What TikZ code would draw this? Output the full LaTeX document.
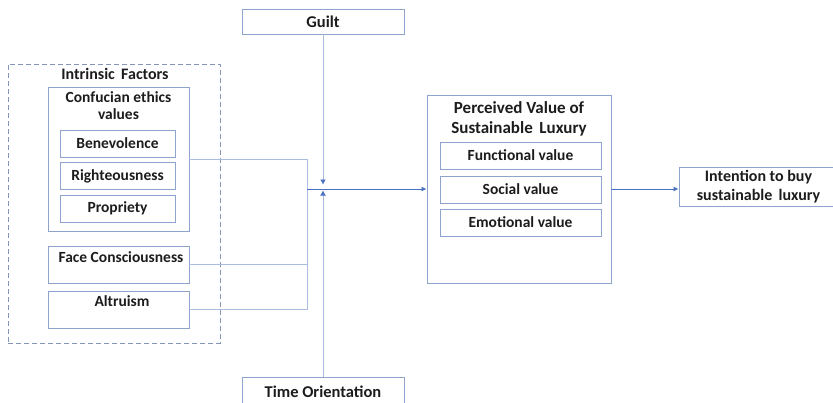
\documentclass[tikz,border=0pt]{standalone}
\usepackage{fontspec}
\setmainfont{Carlito}
\usetikzlibrary{arrows.meta}

\definecolor{boxline}{HTML}{8EA4CC}
\definecolor{linkline}{HTML}{AABDE0}
\definecolor{arrowblue}{HTML}{4A72C0}
\definecolor{dashline}{HTML}{8396B8}
\definecolor{ink}{HTML}{1C1C1C}

\begin{document}
\begin{tikzpicture}[x=1pt, y=-1pt,
            box/.style={
              draw=boxline,
              line width=0.9pt,
              inner sep=0pt,
              text=ink,
              font=\bfseries\fontsize{15.5}{18}\selectfont
            },
            ttl/.style={
              text=ink,
              align=center,
              font=\bfseries\fontsize{16}{18}\selectfont
            },
            link/.style={draw=linkline, line width=0.9pt},
            arr/.style={
              draw=arrowblue, line width=0.8pt,
              -{Latex[length=5pt,width=5pt]}
            },
            modarr/.style={
              draw=linkline, line width=0.9pt,
              -{Latex[length=5pt,width=6pt,color=arrowblue]}
            }
        ]
\useasboundingbox (0,0) rectangle (833,402);
\clip (0,0) rectangle (833,402);

% intrinsic factors group
\node[box, draw=dashline, dashed, dash pattern=on 5pt off 3pt,
      minimum width=212pt, minimum height=279pt] (intr) at (114,203.5) {};
\node[ttl] (intr title) at (115,74) {Intrinsic\, Factors};

\node[box, minimum width=141pt, minimum height=144pt] (conf) at (118.5,159) {};
\node[ttl, font=\bfseries\fontsize{15.5}{17}\selectfont] (conf title) at (118.5,105.5) {Confucian ethics\\values};
\foreach \y/\n/\t in {143.5/ben/Benevolence, 176/right/Righteousness, 208.5/prop/Propriety}
    \node[box, minimum width=115pt, minimum height=27pt] (\n) at (117.5,\y) {\t};

\node[box, minimum width=141pt, minimum height=37pt] (face) at (118.5,264.5) {};
\node[ttl, font=\bfseries\fontsize{15.5}{17}\selectfont] (face title) at (121,257) {Face Consciousness};
\node[box, minimum width=141pt, minimum height=37pt] (alt) at (118.5,309.5) {};
\node[ttl, font=\bfseries\fontsize{15.5}{17}\selectfont] (alt title) at (122,301) {Altruism};

% moderators
\node[box, font=\bfseries\fontsize{16.5}{18}\selectfont,
      minimum width=162pt, minimum height=25pt] (guilt) at (323,21.5) {Guilt};
\node[box, font=\bfseries\fontsize{16.5}{18}\selectfont,
      minimum width=162pt, minimum height=30pt] (time) at (323,392) {Time Orientation};

% perceived value
\node[box, minimum width=184pt, minimum height=188pt] (perc) at (519,189) {};
\node[ttl, font=\bfseries\fontsize{17}{20}\selectfont] (perc title) at (519,119) {Perceived Value of\\Sustainable\, Luxury};
\foreach \y/\n/\t in {155.5/func/Functional value, 189.5/soc/Social value, 222.5/emo/Emotional value}
    \node[box, minimum width=161pt, minimum height=27pt] (\n) at (520.5,\y) {\t};

\node[box, align=center, minimum width=159pt, minimum height=39pt,
      font=\bfseries\fontsize{16}{19}\selectfont] (intent) at (758.5,186.5)
      {Intention to buy\\sustainable\, luxury};

% connectors
\coordinate (bus top) at (307,159);
\coordinate (bus bot) at (307,309.5);
\coordinate (join) at (307,189);
\coordinate (guilt end) at (323,184.5);
\coordinate (time end) at (323,190.5);

\draw[link] (conf.east) -- (bus top) -- (bus bot) -- (alt.east);
\draw[link] (face.east) -- (face.east -| bus top);
\draw[arr] (join) -- (perc.west);
\draw[modarr] (guilt.south) -- (guilt end);
\draw[modarr] (time.north) -- (time end);
\draw[arr] (perc.east) -- (perc.east -| intent.west);

\end{tikzpicture}
\end{document}
